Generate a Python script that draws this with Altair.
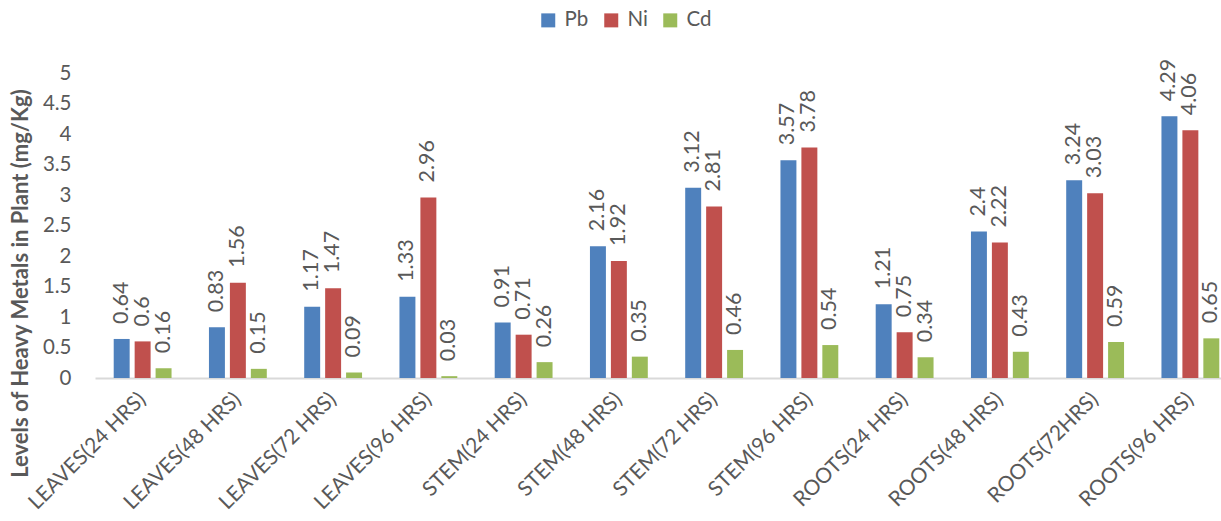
import altair as alt
import pandas as pd

# Plant part / exposure time groups
categories = [
    "LEAVES(24 HRS)", "LEAVES(48 HRS)", "LEAVES(72 HRS)", "LEAVES(96 HRS)",
    "STEM(24 HRS)", "STEM(48 HRS)", "STEM(72 HRS)", "STEM(96 HRS)",
    "ROOTS(24 HRS)", "ROOTS(48 HRS)", "ROOTS(72HRS)", "ROOTS(96 HRS)",
]
metals = ["Pb", "Ni", "Cd"]
colors = ["#4F81BD", "#C0504D", "#9BBB59"]

pb = [0.64, 0.83, 1.17, 1.33, 0.91, 2.16, 3.12, 3.57, 1.21, 2.4, 3.24, 4.29]
ni = [0.6, 1.56, 1.47, 2.96, 0.71, 1.92, 2.81, 3.78, 0.75, 2.22, 3.03, 4.06]
cd = [0.16, 0.15, 0.09, 0.03, 0.26, 0.35, 0.46, 0.54, 0.34, 0.43, 0.59, 0.65]

y_ticks = [0, 0.5, 1, 1.5, 2, 2.5, 3, 3.5, 4, 4.5, 5]

rows = []
for metal, series in zip(metals, [pb, ni, cd]):
    for cat, v in zip(categories, series):
        rows.append({"category": cat, "metal": metal, "value": v, "label": format(v, "g")})
df = pd.DataFrame(rows)

FONT = "Lato"
TEXT = "#595959"

# The category band runs slightly past the right edge of the view, so the
# last group sits flush against the border.
x_enc = alt.X(
    "category:N",
    sort=categories,
    scale=alt.Scale(range=[0, 1143], paddingInner=0, paddingOuter=0),
    axis=alt.Axis(
        title=None,
        labelAngle=-45,
        labelAlign="right",
        labelBaseline="middle",
        labelPadding=18,
        labelFontSize=21,
        labelColor=TEXT,
        labelFont=FONT,
        ticks=False,
        domainColor="#D9D9D9",
        domainWidth=2,
        labelOverlap=False,
        labelLimit=0,
    ),
)
xoff_enc = alt.XOffset(
    "metal:N", sort=metals, scale=alt.Scale(paddingInner=0.238, paddingOuter=0.893)
)
y_enc = alt.Y(
    "value:Q",
    scale=alt.Scale(domain=[0, 5], nice=False),
    axis=alt.Axis(
        title="Levels of Heavy Metals in Plant (mg/Kg)",
        titleFont=FONT,
        titleFontSize=22,
        titleFontWeight="bold",
        titleColor=TEXT,
        titleX=-75,
        titleY=210,
        titleAngle=270,
        titleAlign="center",
        titleBaseline="middle",
        values=y_ticks,
        format="~g",
        labelFontSize=20.5,
        labelColor=TEXT,
        labelFont=FONT,
        labelPadding=24,
        labelOverlap=False,
        labelFlush=False,
        ticks=False,
        domain=False,
        grid=False,
    ),
)

bars = alt.Chart(df).mark_bar().encode(
    x=x_enc,
    xOffset=xoff_enc,
    y=y_enc,
    color=alt.Color(
        "metal:N",
        sort=metals,
        scale=alt.Scale(domain=metals, range=colors),
        legend=alt.Legend(
            title=None,
            orient="none",
            direction="horizontal",
            legendX=443,
            legendY=-63,
            symbolType="square",
            symbolSize=196,
            symbolStrokeWidth=0,
            labelFont=FONT,
            labelFontSize=20.5,
            labelColor=TEXT,
            labelOffset=6,
            columnPadding=12,
        ),
    ),
)

labels = alt.Chart(df).mark_text(
    angle=270,
    align="left",
    baseline="middle",
    dx=15,
    font=FONT,
    fontSize=21.5,
    color=TEXT,
).encode(
    x=x_enc,
    xOffset=xoff_enc,
    y=y_enc,
    text="label:N",
)

chart = (
    alt.layer(bars, labels)
    .properties(
        width=1126,
        height=305,
        autosize=alt.AutoSizeParams(type="none"),
        padding={"left": 95, "top": 73, "right": 0, "bottom": 143},
        background="white",
    )
    .configure_view(stroke=None)
)

chart.save("out.html", embed_options={"renderer": "svg", "actions": False})
